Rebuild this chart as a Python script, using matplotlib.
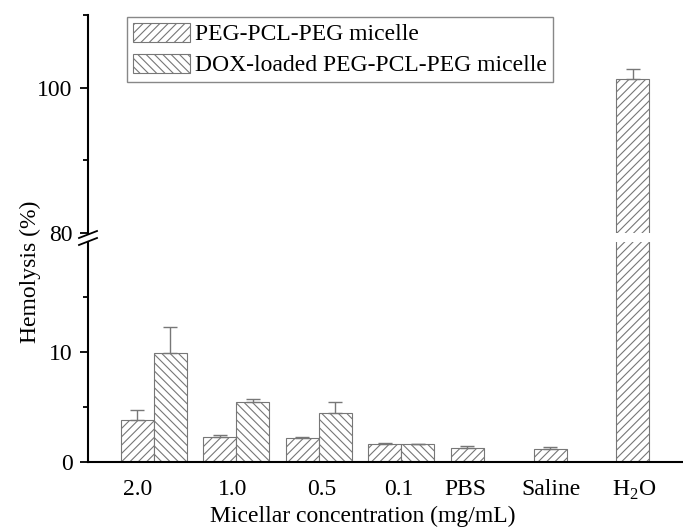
import matplotlib
matplotlib.use("Agg")
import matplotlib.pyplot as plt
from matplotlib.patches import Patch
from matplotlib.lines import Line2D
import numpy as np

plt.rcParams['font.family'] = ['Liberation Serif', 'DejaVu Serif']
plt.rcParams['mathtext.fontset'] = 'custom'
plt.rcParams['mathtext.rm'] = 'Liberation Serif'
plt.rcParams['hatch.linewidth'] = 0.8
plt.rcParams['hatch.color'] = '#666666'

# data
categories = ['2.0', '1.0', '0.5', '0.1', 'PBS', 'Saline', 'H$_2$O']
label_pos = [0.2, 1.36, 2.44, 3.37, 4.17, 5.21, 6.215]
peg = [3.8, 2.3, 2.15, 1.65, 1.3, 1.2, 101.2]
peg_err = [0.9, 0.15, 0.1, 0.1, 0.15, 0.15, 1.4]
dox = [9.9, 5.5, 4.45, 1.6]
dox_err = [2.35, 0.25, 1.0, 0.05]

W, H = 683, 529
fig = plt.figure(figsize=(W / 100, H / 100), dpi=100)

def px(x0, y_top, x1, y_bot):
    return [x0 / W, 1 - y_bot / H, (x1 - x0) / W, (y_bot - y_top) / H]

ax_lo = fig.add_axes(px(88, 242, 683, 462))
ax_hi = fig.add_axes(px(88, 15, 683, 233))

w = 0.4
x = np.arange(len(categories))
xd = np.arange(len(dox))
edge = '#777777'
err_kw = dict(fmt='none', ecolor='#777777', elinewidth=1, capsize=5, capthick=1)

for ax in (ax_lo, ax_hi):
    ax.bar(x + w / 2, peg, w, color='white', edgecolor=edge, hatch='////', linewidth=0.8)
    ax.bar(xd + 1.5 * w, dox, w, color='white', edgecolor=edge, hatch='\\\\\\\\', linewidth=0.8)
    ax.errorbar(x + w / 2, peg, yerr=[np.zeros(len(peg)), peg_err], **err_kw)
    ax.errorbar(xd + 1.5 * w, dox, yerr=[np.zeros(len(dox)), dox_err], **err_kw)
    ax.set_xlim(-0.395, 6.81)
    for s in ('top', 'right'):
        ax.spines[s].set_visible(False)
    for s in ('left', 'bottom'):
        ax.spines[s].set_linewidth(1.5)
    ax.tick_params(axis='y', which='major', direction='out', length=6, width=1.3,
                   labelsize=17, pad=5)
    ax.tick_params(axis='y', which='minor', direction='out', length=3.5, width=1.3)

# lower part
ax_lo.set_ylim(0, 20)
ax_lo.set_yticks([0, 10])
ax_lo.set_yticks([5, 15], minor=True)
ax_lo.set_xticks(label_pos)
ax_lo.set_xticklabels(categories)
ax_lo.tick_params(axis='x', length=0, labelsize=17, pad=12)

# upper part
ax_hi.set_ylim(80, 110)
ax_hi.set_yticks([80, 100])
ax_hi.set_yticks([90, 110], minor=True)
ax_hi.spines['bottom'].set_visible(False)
ax_hi.set_xticks([])

# break marks on the y axis
for y0 in (238, 245):
    fig.add_artist(Line2D([79 / W, 97 / W], [1 - y0 / H, 1 - (y0 - 7) / H],
                          color='black', lw=1.3, transform=fig.transFigure))

fig.text(30 / W, 1 - 272 / H, 'Hemolysis (%)', rotation=90, ha='center', va='center', fontsize=17)
fig.text(363 / W, 2 / H, 'Micellar concentration (mg/mL)', ha='center', va='bottom', fontsize=17)

handles = [Patch(facecolor='white', edgecolor=edge, hatch='////', lw=0.8),
           Patch(facecolor='white', edgecolor=edge, hatch='\\\\\\\\', lw=0.8)]
leg = fig.legend(handles, ['PEG-PCL-PEG micelle', 'DOX-loaded PEG-PCL-PEG micelle'],
                 loc='upper left', bbox_to_anchor=(127 / W, 1 - 17 / H), fontsize=17,
                 frameon=True, fancybox=False, framealpha=1, edgecolor='#888888',
                 handlelength=2.4, handleheight=0.85, handletextpad=0.25,
                 labelspacing=0.35, borderpad=0.25, borderaxespad=0)
leg.get_frame().set_linewidth(1)

fig.savefig('out.png', dpi=100)
